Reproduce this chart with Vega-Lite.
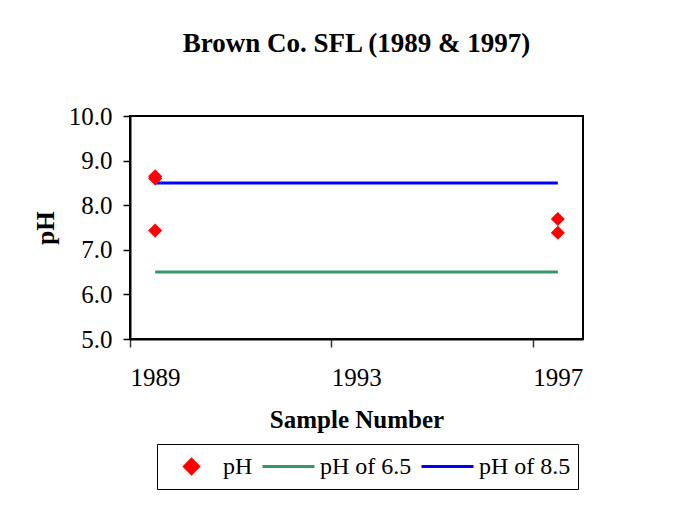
{
  "$schema": "https://vega.github.io/schema/vega-lite/v6.json",
  "width": 453,
  "height": 223,
  "autosize": {"type": "none"},
  "padding": {"left": 130, "top": 116, "right": 102, "bottom": 167},
  "background": "white",
  "title": {
    "text": "Brown Co. SFL (1989 & 1997)",
    "font": "Liberation Serif",
    "fontSize": 27,
    "fontWeight": "bold",
    "color": "black",
    "anchor": "middle",
    "offset": 46
  },
  "config": {
    "view": {"stroke": "black", "strokeWidth": 2},
    "axis": {
      "labelFont": "Liberation Serif",
      "labelFontSize": 25,
      "labelColor": "black",
      "titleFont": "Liberation Serif",
      "titleFontSize": 25,
      "titleFontWeight": "bold",
      "titleColor": "black",
      "domainColor": "black",
      "domainWidth": 2,
      "tickColor": "#333333",
      "tickWidth": 1.5,
      "grid": false
    },
    "legend": {
      "labelFont": "Liberation Serif",
      "labelFontSize": 24,
      "labelColor": "black"
    }
  },
  "data": {
    "values": [
      {"year": 1989, "ph": 8.6, "series": "pH", "kind": "obs"},
      {"year": 1989, "ph": 8.65, "series": "pH", "kind": "obs"},
      {"year": 1989, "ph": 7.43, "series": "pH", "kind": "obs"},
      {"year": 1997, "ph": 7.69, "series": "pH", "kind": "obs"},
      {"year": 1997, "ph": 7.38, "series": "pH", "kind": "obs"},
      {"year": 1989, "ph": 6.5, "series": "pH of 6.5", "kind": "ref"},
      {"year": 1997, "ph": 6.5, "series": "pH of 6.5", "kind": "ref"},
      {"year": 1989, "ph": 8.5, "series": "pH of 8.5", "kind": "ref"},
      {"year": 1997, "ph": 8.5, "series": "pH of 8.5", "kind": "ref"}
    ]
  },
  "encoding": {
    "x": {
      "field": "year",
      "type": "quantitative",
      "scale": {"domain": [1988.5, 1997.5], "nice": false, "zero": false},
      "axis": {
        "title": "Sample Number",
        "values": [1988.5, 1992.5, 1996.5],
        "labelExpr": "format(datum.value + 0.5, 'd')",
        "labelAlign": "center",
        "labelOffset": 25,
        "tickSize": 8,
        "labelPadding": 18,
        "titlePadding": 17,
        "labelFlush": false,
        "labelOverlap": false
      }
    },
    "y": {
      "field": "ph",
      "type": "quantitative",
      "scale": {"domain": [5, 10], "nice": false, "zero": false},
      "axis": {
        "title": "pH",
        "values": [5, 6, 7, 8, 9, 10],
        "format": ".1f",
        "tickSize": 7,
        "labelPadding": 11,
        "titlePadding": 10,
        "tickColor": "black"
      }
    },
    "color": {
      "field": "series",
      "type": "nominal",
      "scale": {
        "domain": ["pH", "pH of 6.5", "pH of 8.5"],
        "range": ["#FF0000", "#339966", "#0000FF"]
      },
      "legend": {
        "title": null,
        "orient": "none",
        "direction": "horizontal",
        "legendX": 27,
        "legendY": 328,
        "strokeColor": "black",
        "fillColor": "white",
        "padding": 7,
        "symbolSize": 2704,
        "symbolStrokeWidth": 3,
        "clipHeight": 31,
        "labelOffset": 4,
        "columnPadding": 8,
        "encode": {
          "symbols": {
            "update": {
              "fill": {"signal": "datum.value === 'pH' ? '#FF0000' : 'transparent'"},
              "stroke": {"signal": "datum.value === 'pH' ? 'transparent' : scale('color', datum.value)"},
              "strokeWidth": {"value": 3},
              "opacity": {"value": 1}
            }
          }
        }
      }
    }
  },
  "layer": [
    {
      "transform": [{"filter": "datum.kind === 'ref'"}],
      "mark": {"type": "line", "strokeWidth": 3},
      "encoding": {"detail": {"field": "series"}}
    },
    {
      "transform": [{"filter": "datum.kind === 'obs'"}],
      "mark": {"type": "point", "filled": true, "opacity": 1, "size": 2704},
      "encoding": {
        "shape": {
          "field": "series",
          "type": "nominal",
          "scale": {
            "domain": ["pH", "pH of 6.5", "pH of 8.5"],
            "range": ["M-0.27,0L0,-0.27L0.27,0L0,0.27Z", "stroke", "stroke"]
          },
          "legend": {
            "title": null,
            "orient": "none",
            "direction": "horizontal",
            "legendX": 27,
            "legendY": 328,
            "strokeColor": "black",
            "fillColor": "white",
            "padding": 7,
            "symbolSize": 2704,
            "symbolStrokeWidth": 3,
            "clipHeight": 31,
            "labelOffset": 4,
            "columnPadding": 8
          }
        }
      }
    }
  ]
}
